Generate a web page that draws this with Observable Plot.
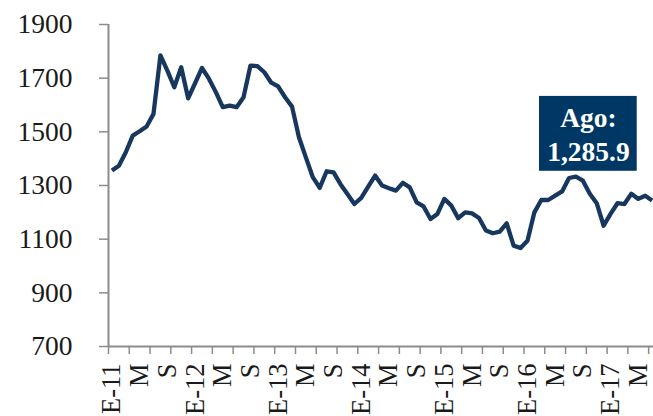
<!DOCTYPE html>
<html>
<head>
<meta charset="utf-8">
<script src="https://cdn.jsdelivr.net/npm/d3@7"></script>
<script src="https://cdn.jsdelivr.net/npm/@observablehq/plot@0.6"></script>
<style>
  html, body { margin: 0; padding: 0; background: #fff; }
  #chart { width: 653px; height: 416px; overflow: hidden; }
</style>
</head>
<body>
<div id="chart"></div>
<script>
// Monthly gold price (US$/oz), Jan-2011 .. Jul-2017
const values = [
  1356, 1374, 1424, 1486, 1502, 1520, 1567, 1785, 1728, 1666, 1741, 1625,
  1681, 1738, 1698, 1648, 1592, 1598, 1592, 1629, 1747, 1745, 1722, 1683,
  1669, 1629, 1594, 1480, 1405, 1331, 1291, 1353, 1349, 1305, 1268, 1231,
  1254, 1296, 1337, 1300, 1290, 1281, 1310, 1293, 1237, 1222, 1175, 1194,
  1250, 1225, 1178, 1200, 1196, 1179, 1132, 1122, 1128, 1159, 1076, 1067,
  1094, 1200, 1246, 1246, 1262, 1278, 1328, 1333, 1318, 1269, 1234, 1150,
  1194, 1234, 1231, 1269, 1250, 1262, 1244
];
const xLabels = ["E-11","M","S","E-12","M","S","E-13","M","S","E-14","M","S",
                 "E-15","M","S","E-16","M","S","E-17","M"];
const labelEvery = 4;   // months between labels
const tickEvery = 3;    // months between tick marks
const yTicks = [700, 900, 1100, 1300, 1500, 1700, 1900];
const noteLines = ["Ago:", "1,285.9"];
const noteBox = {x1: 61.74, x2: 75.85, y1: 1353, y2: 1632, xc: 68.8, yc: 1494};

const data = values.map((v, i) => ({i, v}));
const labelPos = xLabels.map((_, k) => k * labelEvery);
const tickPos = d3.range(-0.5, values.length, tickEvery);

const axisGray = "#8c8c8c";
const textColor = "#1a1a1a";
const lineColor = "#17375E";
const boxColor = "#003865";

const chart = Plot.plot({
  width: 653,
  height: 416,
  marginLeft: 108,
  marginRight: 0,
  marginTop: 24,
  marginBottom: 70,
  style: {fontFamily: "'Liberation Serif', serif", background: "#fff", overflow: "hidden"},
  x: {domain: [-0.5, 78.2], axis: null},
  y: {domain: [700, 1900], axis: null},
  marks: [
    Plot.axisY({ticks: yTicks, tickSize: 9, tickPadding: 27, fontSize: 27.5,
                tickFormat: d3.format("d"),
                stroke: axisGray, fill: textColor, strokeWidth: 1.5}),
    Plot.axisX({ticks: tickPos, tickSize: 8, tickFormat: () => "", stroke: axisGray, strokeWidth: 1.5}),
    Plot.axisX({ticks: labelPos, tickSize: 0, tickPadding: 17, tickRotate: -90, textAnchor: "end",
                fontSize: 26.5, fill: textColor,
                tickFormat: d => xLabels[Math.round(d / labelEvery)]}),
    Plot.ruleX([-0.5], {stroke: axisGray, strokeWidth: 2}),
    Plot.ruleY([700], {stroke: axisGray, strokeWidth: 2}),
    Plot.line(data, {x: "i", y: "v", stroke: lineColor, strokeWidth: 4.3,
                     strokeLinejoin: "round", strokeLinecap: "butt"}),
    Plot.rect([noteBox], {x1: "x1", x2: "x2", y1: "y1", y2: "y2", fill: boxColor}),
    Plot.text([noteBox], {x: "xc", y: "yc", text: () => noteLines.join("\n"),
                          fill: "#fff", fontWeight: "bold", fontSize: 27.5, lineHeight: 1.21})
  ]
});
document.getElementById("chart").appendChild(chart);
</script>
</body>
</html>
